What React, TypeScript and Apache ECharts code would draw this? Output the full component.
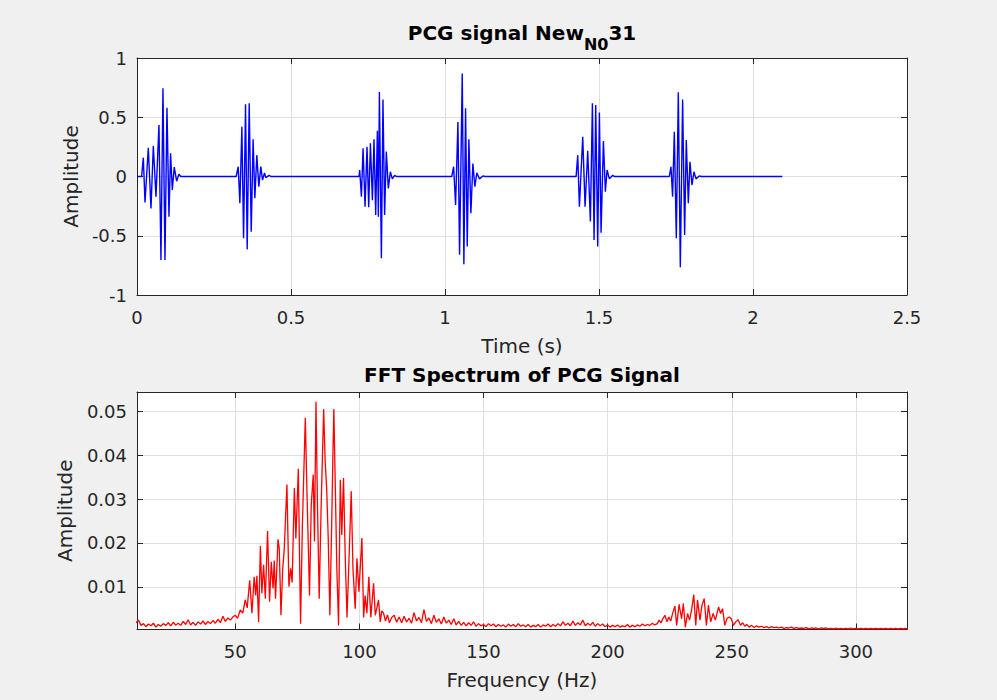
import React, { useEffect, useRef } from 'react';
import * as echarts from 'echarts';

// ---------- Top plot: PCG signal (time s, amplitude) ----------
const timeTicks = [0, 0.5, 1, 1.5, 2, 2.5];
const ampTicks = [-1, -0.5, 0, 0.5, 1];

const signalStart: [number, number][] = [[0, 0], [0.015, 0]];
const burst1: [number, number][] = [
  [0.0205, 0.159], [0.026, -0.22], [0.0367, 0.243], [0.0454, -0.27], [0.053, 0.257],
  [0.0616, -0.17], [0.0713, 0.435], [0.0778, -0.705], [0.0843, 0.745], [0.0908, -0.705],
  [0.0973, 0.58], [0.1038, -0.34], [0.109, 0.196], [0.1146, -0.114], [0.121, 0.08],
  [0.1287, -0.04], [0.136, 0.02], [0.142, 0],
];
const burst2: [number, number][] = [
  [0.322, 0], [0.3286, 0.083], [0.334, -0.226], [0.3405, 0.42], [0.346, -0.52],
  [0.3524, 0.61], [0.3578, -0.615], [0.3643, 0.618], [0.3708, -0.466], [0.377, 0.314],
  [0.3826, -0.184], [0.389, 0.18], [0.3956, -0.086], [0.402, 0.083], [0.4075, -0.03],
  [0.414, 0.03], [0.418, -0.01], [0.429, 0.01], [0.435, 0],
];
const burst3: [number, number][] = [
  [0.721, 0], [0.723, 0.055], [0.7286, -0.17], [0.734, 0.238], [0.7404, -0.255],
  [0.7468, 0.25], [0.7523, -0.26], [0.7578, 0.28], [0.7643, -0.2], [0.7695, 0.314],
  [0.775, -0.325], [0.7804, 0.386], [0.7836, -0.34], [0.787, 0.713], [0.7934, -0.69],
  [0.7986, 0.65], [0.804, -0.325], [0.8094, 0.21], [0.816, -0.1], [0.8226, 0.04],
  [0.829, -0.02], [0.8366, 0.01], [0.842, 0],
];
const burst4: [number, number][] = [
  [1.022, 0], [1.028, 0.083], [1.0344, -0.24], [1.042, 0.46], [1.0473, -0.66],
  [1.056, 0.87], [1.0613, -0.74], [1.0668, 0.575], [1.0722, -0.59], [1.0775, 0.314],
  [1.084, -0.31], [1.0905, 0.11], [1.097, -0.086], [1.1034, 0.03], [1.112, -0.02],
  [1.123, 0.005], [1.13, 0],
];
const burst5: [number, number][] = [
  [1.4257, 0], [1.431, 0.18], [1.4364, -0.255], [1.4472, 0.336], [1.4548, -0.255],
  [1.4634, 0.218], [1.472, -0.38], [1.4786, 0.618], [1.484, -0.536], [1.4893, 0.603],
  [1.4958, -0.59], [1.5013, 0.54], [1.5067, -0.474], [1.5143, 0.3], [1.5207, -0.128],
  [1.5262, 0.055], [1.5337, -0.02], [1.5445, 0.01], [1.55, 0],
];
const burst6: [number, number][] = [
  [1.7283, 0], [1.7337, 0.083], [1.739, -0.17], [1.7445, 0.378], [1.751, -0.52],
  [1.7575, 0.71], [1.764, -0.766], [1.7715, 0.65], [1.778, -0.494], [1.7834, 0.308],
  [1.79, -0.226], [1.7953, 0.125], [1.8018, -0.072], [1.8083, 0.04], [1.815, -0.02],
  [1.8256, 0.005], [1.832, 0],
];
const signalEnd: [number, number][] = [[2.095, 0]];

// ---------- Bottom plot: FFT spectrum (Hz, amplitude) ----------
const freqTicks = [50, 100, 150, 200, 250, 300];
const spectrumTicks = [0.01, 0.02, 0.03, 0.04, 0.05];

// 10 .. 49 Hz, one value per Hz
const fftLowStart = 10;
const fftLowAmp = [
  0.0018, 0.0024, 0.0012, 0.0016, 0.0009, 0.0015, 0.0011, 0.0017, 0.0008, 0.0014,
  0.0010, 0.0016, 0.0012, 0.0018, 0.0011, 0.0019, 0.0013, 0.0017, 0.0012, 0.0021,
  0.0014, 0.0025, 0.0013, 0.0019, 0.0012, 0.0020, 0.0015, 0.0022, 0.0014, 0.0021,
  0.0016, 0.0023, 0.0017, 0.0026, 0.0018, 0.0033, 0.0021, 0.0029, 0.0024, 0.0031,
];
// main lobe 50 .. 112 Hz
const fftMain: [number, number][] = [
  [50.0, 0.0035], [50.9, 0.0028], [52.0, 0.0047], [53.0, 0.0040], [54.0, 0.0070],
  [54.8, 0.0052], [55.8, 0.0115], [56.7, 0.0040], [57.6, 0.0123], [58.2, 0.0080],
  [58.7, 0.0125], [59.4, 0.0020], [60.1, 0.0193], [60.7, 0.0085], [61.4, 0.0150],
  [62.1, 0.0073], [63.0, 0.0227], [63.8, 0.0066], [64.5, 0.0157], [65.2, 0.0096],
  [65.7, 0.0160], [66.2, 0.0073], [67.2, 0.0208], [67.7, 0.0188], [68.4, 0.0035],
  [69.1, 0.0142], [69.7, 0.0184], [70.8, 0.0333], [71.6, 0.0100], [72.3, 0.0142],
  [72.9, 0.0110], [73.8, 0.0325], [74.4, 0.0210], [75.4, 0.0369], [75.9, 0.0157],
  [76.3, 0.0016], [77.0, 0.0234], [78.2, 0.0485], [78.9, 0.0310], [79.9, 0.0080],
  [80.6, 0.0287], [81.4, 0.0356], [81.9, 0.0203], [82.5, 0.0522], [83.1, 0.0287],
  [83.8, 0.0073], [84.6, 0.0287], [85.6, 0.0505], [86.2, 0.0386], [86.8, 0.0325],
  [87.4, 0.0218], [88.1, 0.0035], [88.8, 0.0234], [89.3, 0.0393], [89.7, 0.0505],
  [90.3, 0.0325], [90.9, 0.0142], [91.6, 0.0012], [92.3, 0.0344], [92.9, 0.0218],
  [93.6, 0.0348], [94.3, 0.0165], [95.0, 0.0030], [95.6, 0.0127], [96.7, 0.0318],
  [97.4, 0.0142], [98.3, 0.0050], [99.0, 0.0165], [99.8, 0.0089], [101.0, 0.0211],
  [101.7, 0.0030], [102.3, 0.0080], [103.0, 0.0040], [103.8, 0.0123], [104.6, 0.0030],
  [105.7, 0.0108], [106.4, 0.0035], [107.7, 0.0070], [108.4, 0.0020], [109.0, 0.0045],
  [109.7, 0.0040], [110.5, 0.0022], [111.3, 0.0036], [112.1, 0.0018],
];
// 113 .. 219 Hz, one value per Hz
const fftMidStart = 113;
const fftMidAmp = [
  0.0030, 0.0035, 0.0019, 0.0031, 0.0018, 0.0033, 0.0020, 0.0028, 0.0017, 0.0041,
  0.0022, 0.0030, 0.0018, 0.0048, 0.0021, 0.0029, 0.0016, 0.0035, 0.0019, 0.0027,
  0.0015, 0.0031, 0.0017, 0.0024, 0.0014, 0.0027, 0.0013, 0.0021, 0.0012, 0.0019,
  0.0011, 0.0018, 0.0012, 0.0020, 0.0010, 0.0016, 0.0011, 0.0014, 0.0009, 0.0016,
  0.0011, 0.0015, 0.0009, 0.0014, 0.0010, 0.0013, 0.0008, 0.0015, 0.0010, 0.0014,
  0.0009, 0.0016, 0.0010, 0.0013, 0.0009, 0.0014, 0.0008, 0.0012, 0.0009, 0.0014,
  0.0008, 0.0013, 0.0010, 0.0015, 0.0009, 0.0014, 0.0010, 0.0016, 0.0011, 0.0020,
  0.0012, 0.0017, 0.0011, 0.0022, 0.0012, 0.0018, 0.0013, 0.0024, 0.0011, 0.0017,
  0.0012, 0.0019, 0.0010, 0.0016, 0.0011, 0.0015, 0.0009, 0.0013, 0.0008, 0.0012,
  0.0009, 0.0013, 0.0008, 0.0011, 0.0009, 0.0014, 0.0008, 0.0012, 0.0009, 0.0013,
  0.0010, 0.0015, 0.0011, 0.0014, 0.0012, 0.0017, 0.0013,
];
// second lobe 220 .. 255 Hz
const fftBump: [number, number][] = [
  [220.0, 0.0016], [220.7, 0.0024], [221.5, 0.0018], [222.3, 0.0028], [223.1, 0.0035],
  [223.9, 0.0020], [224.6, 0.0031], [225.4, 0.0022], [226.2, 0.0040], [227.1, 0.0056],
  [227.8, 0.0012], [228.8, 0.0060], [229.8, 0.0027], [230.5, 0.0062], [231.3, 0.0008],
  [232.2, 0.0039], [233.0, 0.0024], [233.8, 0.0047], [234.7, 0.0082], [235.5, 0.0012],
  [236.2, 0.0070], [237.2, 0.0024], [238.0, 0.0058], [238.9, 0.0073], [239.8, 0.0012],
  [240.6, 0.0058], [241.5, 0.0020], [242.5, 0.0039], [243.4, 0.0024], [244.7, 0.0054],
  [245.5, 0.0039], [246.3, 0.0050], [247.2, 0.0012], [248.1, 0.0028], [249.0, 0.0031],
  [249.8, 0.0027], [250.7, 0.0012], [251.6, 0.0020], [252.6, 0.0025], [253.5, 0.0012],
  [254.4, 0.0018], [255.3, 0.0010],
];
// 256 .. 321 Hz, one value per Hz
const fftHighStart = 256;
const fftHighAmp = [
  0.0014, 0.0008, 0.0012, 0.0007, 0.0011, 0.0008, 0.0010, 0.0007, 0.0009, 0.0006,
  0.0009, 0.0007, 0.0008, 0.0006, 0.0008, 0.0005, 0.0007, 0.0006, 0.0008, 0.0005,
  0.0007, 0.0005, 0.0006, 0.0005, 0.0007, 0.0004, 0.0006, 0.0005, 0.0006, 0.0004,
  0.0006, 0.0005, 0.0006, 0.0004, 0.0005, 0.0004, 0.0006, 0.0004, 0.0005, 0.0004,
  0.0005, 0.0004, 0.0006, 0.0004, 0.0005, 0.0004, 0.0005, 0.0004, 0.0005, 0.0004,
  0.0005, 0.0004, 0.0005, 0.0004, 0.0005, 0.0004, 0.0005, 0.0004, 0.0005, 0.0004,
  0.0005, 0.0004, 0.0005, 0.0004, 0.0005, 0.0004,
];

const FONT = 'DejaVu Sans';
const TEXT = '#262626';
const GRIDLINE = '#dfdfdf';

function App() {
  const ref = useRef<HTMLDivElement>(null);

  useEffect(() => {
    if (!ref.current) return;
    const chart = echarts.init(ref.current, null, { renderer: 'svg' });

    const pcgSignal = [
      ...signalStart, ...burst1, ...burst2, ...burst3,
      ...burst4, ...burst5, ...burst6, ...signalEnd,
    ];
    const spectrum: [number, number][] = [
      ...fftLowAmp.map((v, i) => [fftLowStart + i, v] as [number, number]),
      ...fftMain,
      ...fftMidAmp.map((v, i) => [fftMidStart + i, v] as [number, number]),
      ...fftBump,
      ...fftHighAmp.map((v, i) => [fftHighStart + i, v] as [number, number]),
    ];

    const lineStyle = { color: TEXT, width: 1 };
    const tick = { show: true, inside: true, length: 6, lineStyle };
    const labelStyle = { fontFamily: FONT, fontSize: 18, color: TEXT };
    const nameStyle = { fontFamily: FONT, fontSize: 20, color: TEXT };
    const onlyTicks = (list: number[]) => (v: number) =>
      list.some((t) => Math.abs(t - v) < 1e-9) ? String(v) : '';

    const freqMin = 10.4;
    const freqMax = 320.6;
    const specMin = 0.00026;
    const specMax = 0.0544;

    chart.setOption({
      animation: false,
      backgroundColor: '#f0f0f0',
      grid: [
        { left: 137, top: 58, width: 770, height: 237, show: true, backgroundColor: '#ffffff', borderWidth: 0 },
        { left: 137, top: 392, width: 770, height: 237.5, show: true, backgroundColor: '#ffffff', borderWidth: 0 },
      ],
      graphic: [
        {
          type: 'text',
          x: 522,
          y: 33,
          style: {
            text: 'PCG signal New{s|N0}31',
            fontFamily: FONT,
            fontSize: 20,
            fontWeight: 'bold',
            fill: '#000000',
            align: 'center',
            verticalAlign: 'middle',
            rich: {
              s: { fontFamily: FONT, fontSize: 16, fontWeight: 'bold', fill: '#000000', padding: [23, 0, 0, 0] },
            },
          },
        },
        {
          type: 'text',
          x: 522,
          y: 375,
          style: {
            text: 'FFT Spectrum of PCG Signal',
            fontFamily: FONT,
            fontSize: 20,
            fontWeight: 'bold',
            fill: '#000000',
            align: 'center',
            verticalAlign: 'middle',
          },
        },
      ],
      xAxis: [
        {
          gridIndex: 0, type: 'value', position: 'bottom',
          min: timeTicks[0], max: timeTicks[timeTicks.length - 1], interval: 0.5,
          name: 'Time (s)', nameLocation: 'middle', nameGap: 41, nameTextStyle: nameStyle,
          axisLine: { show: true, onZero: false, lineStyle }, axisTick: tick,
          axisLabel: { ...labelStyle, margin: 13, formatter: onlyTicks(timeTicks) },
          splitLine: { show: true, lineStyle: { color: GRIDLINE, width: 1 } },
        },
        {
          gridIndex: 0, type: 'value', position: 'top',
          min: timeTicks[0], max: timeTicks[timeTicks.length - 1], interval: 0.5,
          axisLine: { show: true, onZero: false, lineStyle }, axisTick: tick,
          axisLabel: { show: false }, splitLine: { show: false },
        },
        {
          gridIndex: 1, type: 'value', position: 'bottom',
          min: freqMin, max: freqMax,
          name: 'Frequency (Hz)', nameLocation: 'middle', nameGap: 40, nameTextStyle: nameStyle,
          axisLine: { show: true, onZero: false, lineStyle }, axisTick: tick,
          axisLabel: { ...labelStyle, margin: 13, showMinLabel: false, showMaxLabel: false, formatter: onlyTicks(freqTicks) },
          splitLine: { show: true, lineStyle: { color: GRIDLINE, width: 1 } },
        },
        {
          gridIndex: 1, type: 'value', position: 'top',
          min: freqMin, max: freqMax,
          axisLine: { show: true, onZero: false, lineStyle }, axisTick: tick,
          axisLabel: { show: false }, splitLine: { show: false },
        },
      ],
      yAxis: [
        {
          gridIndex: 0, type: 'value', position: 'left',
          min: ampTicks[0], max: ampTicks[ampTicks.length - 1], interval: 0.5,
          name: 'Amplitude', nameLocation: 'middle', nameGap: 55, nameTextStyle: nameStyle,
          axisLine: { show: true, onZero: false, lineStyle }, axisTick: tick,
          axisLabel: { ...labelStyle, margin: 10, formatter: onlyTicks(ampTicks) },
          splitLine: { show: true, lineStyle: { color: GRIDLINE, width: 1 } },
        },
        {
          gridIndex: 0, type: 'value', position: 'right',
          min: ampTicks[0], max: ampTicks[ampTicks.length - 1], interval: 0.5,
          axisLine: { show: true, onZero: false, lineStyle }, axisTick: tick,
          axisLabel: { show: false }, splitLine: { show: false },
        },
        {
          gridIndex: 1, type: 'value', position: 'left',
          min: specMin, max: specMax,
          name: 'Amplitude', nameLocation: 'middle', nameGap: 62, nameTextStyle: nameStyle,
          axisLine: { show: true, onZero: false, lineStyle }, axisTick: tick,
          axisLabel: { ...labelStyle, margin: 10, showMinLabel: false, showMaxLabel: false, formatter: onlyTicks(spectrumTicks) },
          splitLine: { show: true, lineStyle: { color: GRIDLINE, width: 1 } },
        },
        {
          gridIndex: 1, type: 'value', position: 'right',
          min: specMin, max: specMax,
          axisLine: { show: true, onZero: false, lineStyle }, axisTick: tick,
          axisLabel: { show: false }, splitLine: { show: false },
        },
      ],
      series: [
        {
          type: 'line', xAxisIndex: 0, yAxisIndex: 0, data: pcgSignal,
          showSymbol: false, symbol: 'none', clip: true,
          lineStyle: { color: '#0000ff', width: 1.4 },
        },
        {
          type: 'line', xAxisIndex: 2, yAxisIndex: 2, data: spectrum,
          showSymbol: false, symbol: 'none', clip: true,
          lineStyle: { color: '#ff0000', width: 1.3 },
        },
      ],
    });

    return () => chart.dispose();
  }, []);

  return (
    <div
      ref={ref}
      style={{ position: 'fixed', left: 0, top: 0, width: 997, height: 700, background: '#f0f0f0' }}
    />
  );
}

export default App;
